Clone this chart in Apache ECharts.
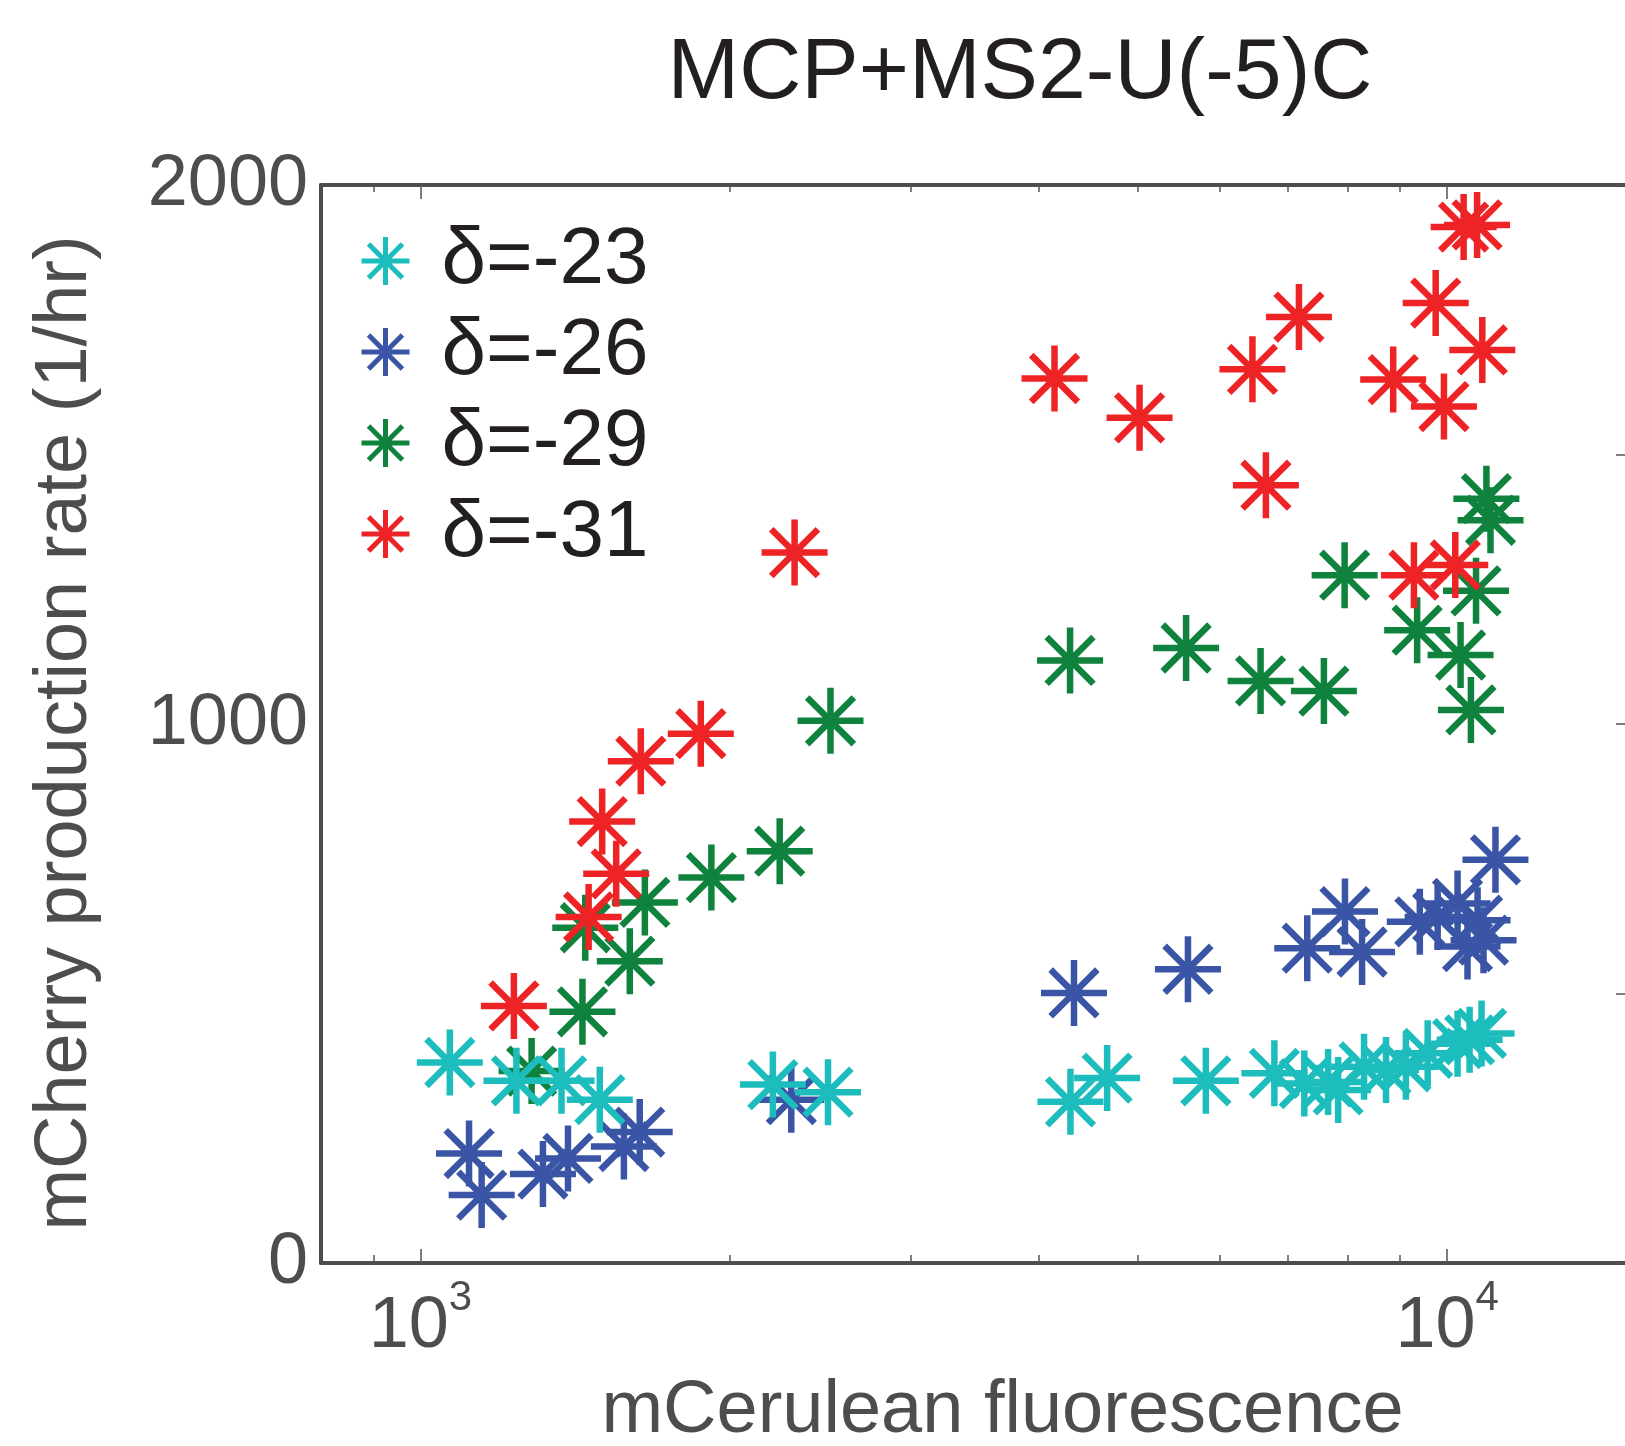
<!DOCTYPE html>
<html>
<head>
<meta charset="utf-8">
<script src="https://cdn.jsdelivr.net/npm/echarts@6/dist/echarts.min.js"></script>
<style>
html,body{margin:0;padding:0;background:#fff;overflow:hidden;}
#chart{width:1625px;height:1446px;}
</style>
</head>
<body>
<div id="chart"></div>
<script>
// ---- data ----
const seriesNames = ['δ=-23', 'δ=-26', 'δ=-29', 'δ=-31'];
const seriesColors = ['#1ebdbd', '#3a55a5', '#0f823e', '#ee2325'];

const cyanX = [1068, 1240, 1372, 1495, 2204, 2494, 4296, 4664, 5820, 6787, 7258, 7656, 7830, 8299, 8718, 9115, 9572, 10235, 10515, 10801];
const cyanY = [372, 338, 338, 303, 331, 317, 299, 343, 338, 352, 333, 336, 321, 364, 358, 364, 389, 407, 414, 426];

const blueX = [1115, 1147, 1316, 1392, 1578, 1635, 2297, 4330, 5591, 7306, 7951, 8262, 9404, 9788, 10235, 10466, 10705, 10849, 11143];
const blueY = [203, 126, 165, 194, 216, 243, 303, 501, 545, 584, 652, 577, 633, 642, 667, 587, 636, 599, 748];

const greenX = [1283, 1438, 1447, 1599, 1654, 1920, 2238, 2508, 4292, 5568, 6580, 7584, 7945, 9348, 10304, 10546, 10668, 10919, 11020];
const greenY = [356, 466, 622, 560, 669, 715, 764, 1006, 1118, 1141, 1080, 1061, 1276, 1174, 1128, 1026, 1247, 1418, 1378];

const redX = [1233, 1458, 1551, 1503, 1639, 1875, 2314, 4145, 5016, 6461, 6659, 7171, 8859, 9281, 9745, 9927, 10183, 10375, 10693, 10819];
const redY = [477, 642, 722, 819, 931, 982, 1318, 1641, 1568, 1658, 1443, 1755, 1639, 1276, 1781, 1589, 1295, 1922, 1926, 1694];

const xMajorTicks = [1000, 10000];
const xMinorTicks = [900, 2000, 3000, 4000, 5000, 6000, 7000, 8000, 9000];
const xMin = 800, xMax = 15000;
const yMin = 0, yMax = 2000, yInterval = 1000, yRightInterval = 500;

const titleText = 'MCP+MS2-U(-5)C';
const xName = 'mCerulean fluorescence';
const yName = 'mCherry production rate (1/hr)';

// ---- chart ----
const FONT = '"Liberation Sans", Arial, Helvetica, sans-serif';
const AX = '#4d4d4d';
const STAR = 'path://M50,0L50,100M0,50L100,50M14.64,14.64L85.36,85.36M14.64,85.36L85.36,14.64';

function pairs(xs, ys) { return xs.map((x, i) => [x, ys[i]]); }
const allData = [pairs(cyanX, cyanY), pairs(blueX, blueY), pairs(greenX, greenY), pairs(redX, redY)];
const zOrder = [4, 3, 2, 5];

const chart = echarts.init(document.getElementById('chart'), null, { renderer: 'canvas' });

function xAxisDef(pos, ticks, len, showLine, showLabel) {
  return {
    type: 'log', logBase: 10, min: xMin, max: xMax, position: pos,
    axisLine: { show: showLine, onZero: false, lineStyle: { color: AX, width: 4 } },
    axisTick: { show: true, inside: true, length: len, customValues: ticks, lineStyle: { color: '#555', width: 1.5 } },
    axisLabel: showLabel ? {
      show: true, customValues: ticks, margin: 14,
      formatter: v => '{b|10}{s|' + Math.round(Math.log10(v)) + '}',
      rich: {
        b: { fontSize: 72, fontFamily: FONT, color: AX, lineHeight: 100 },
        s: { fontSize: 42, fontFamily: FONT, color: AX, lineHeight: 44, verticalAlign: 'top' }
      }
    } : { show: false },
    splitLine: { show: false }, minorTick: { show: false }, minorSplitLine: { show: false }
  };
}

const xAxes = [
  Object.assign(xAxisDef('bottom', xMajorTicks, 14, true, true), {
    name: xName, nameLocation: 'middle', nameGap: 112,
    nameTextStyle: { fontSize: 74, fontFamily: FONT, color: AX, padding: [0, 0, 0, 56], lineHeight: 74 }
  }),
  xAxisDef('bottom', xMinorTicks, 8, false, false),
  xAxisDef('top', xMajorTicks, 14, true, false),
  xAxisDef('top', xMinorTicks, 7, false, false)
];

const option = {
  backgroundColor: '#ffffff',
  animation: false,
  title: {
    text: titleText, left: 1015, top: 26, textAlign: 'center',
    textStyle: { fontSize: 86, fontWeight: 'normal', fontFamily: FONT, color: '#231f20' }
  },
  legend: {
    data: seriesNames, orient: 'vertical', left: 359, top: 221, padding: 0,
    itemWidth: 48, itemHeight: 48, itemGap: 11, icon: STAR,
    itemStyle: { borderWidth: 5 },
    textStyle: { fontSize: 80, fontFamily: FONT, color: '#231f20', lineHeight: 80, padding: [0, 0, 0, 27] },
    selectedMode: false
  },
  grid: { left: 321, right: -3, top: 185, bottom: 183, containLabel: false, outerBoundsMode: 'none' },
  xAxis: xAxes,
  yAxis: [
    {
      type: 'value', min: yMin, max: yMax, interval: yInterval, position: 'left',
      name: yName, nameLocation: 'middle', nameGap: 218,
      nameTextStyle: { fontSize: 74, fontFamily: FONT, color: AX, lineHeight: 74, padding: [0, 18, 0, 0] },
      axisLine: { show: true, lineStyle: { color: AX, width: 4 } },
      axisTick: { show: false },
      axisLabel: { fontSize: 72, fontFamily: FONT, color: AX, margin: 13, formatter: v => String(v) },
      splitLine: { show: false }
    },
    {
      type: 'value', min: yMin, max: yMax, interval: yRightInterval, position: 'right',
      axisLine: { show: true, lineStyle: { color: AX, width: 4 } },
      axisTick: { show: true, inside: true, length: 12, lineStyle: { color: '#555', width: 1.5 } },
      axisLabel: { show: false }, splitLine: { show: false }
    }
  ],
  series: seriesNames.map((name, i) => ({
    name: name, type: 'scatter', xAxisIndex: 0, yAxisIndex: 0,
    data: allData[i], symbol: STAR, symbolSize: 66, z: zOrder[i],
    itemStyle: { color: seriesColors[i], borderColor: seriesColors[i], borderWidth: 6.5, opacity: 1 },
    emphasis: { disabled: true }
  }))
};
chart.setOption(option);
</script>
</body>
</html>
